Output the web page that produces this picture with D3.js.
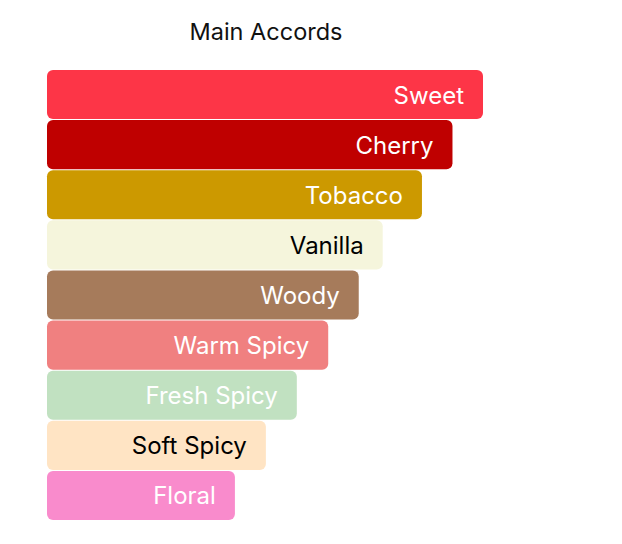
<!DOCTYPE html>
<html>
<head>
<meta charset="utf-8">
<script src="https://cdn.jsdelivr.net/npm/d3@7"></script>
<style>
  body { margin: 0; background: #fff; }
  text { font-family: Inter, "Open Sans", sans-serif; }
</style>
</head>
<body>
<svg id="accords" width="622" height="544"></svg>
<script>
const accords = ["Sweet", "Cherry", "Tobacco", "Vanilla", "Woody", "Warm Spicy", "Fresh Spicy", "Soft Spicy", "Floral"];
const strength = [100, 93, 86, 77, 71.5, 64.5, 57.3, 50.2, 43.1];
const barColors = ["#fd3547", "#bf0000", "#cc9900", "#f5f5dc", "#a67b5b", "#f08080", "#c1e1c1", "#ffe4c4", "#f98bcc"];
const labelColors = ["#fff", "#fff", "#fff", "#000", "#fff", "#fff", "#fff", "#000", "#fff"];

const svg = d3.select("#accords");

const data = accords.map((name, i) => ({
  name: name,
  value: strength[i],
  color: barColors[i],
  label: labelColors[i]
}));

const x = d3.scaleLinear()
  .domain([0, 100])
  .range([47, 483]);

const y = d3.scaleBand()
  .domain(accords)
  .range([70, 520])
  .paddingInner(0.02);

svg.append("text")
  .attr("x", 266)
  .attr("y", 40)
  .attr("text-anchor", "middle")
  .style("font-size", "23.5px")
  .attr("fill", "#111")
  .text("Main Accords");

svg.selectAll(".bar")
  .data(data)
  .enter()
  .append("rect")
  .attr("class", "bar")
  .attr("x", x(0))
  .attr("y", d => y(d.name))
  .attr("width", d => x(d.value) - x(0))
  .attr("height", y.bandwidth())
  .attr("rx", 6)
  .attr("fill", d => d.color);

svg.selectAll(".bar-label")
  .data(data)
  .enter()
  .append("text")
  .attr("class", "bar-label")
  .attr("x", d => x(d.value) - 19)
  .attr("y", d => y(d.name) + y.bandwidth() / 2 + 9)
  .attr("text-anchor", "end")
  .style("font-size", "24px")
  .attr("fill", d => d.label)
  .text(d => d.name);
</script>
</body>
</html>
